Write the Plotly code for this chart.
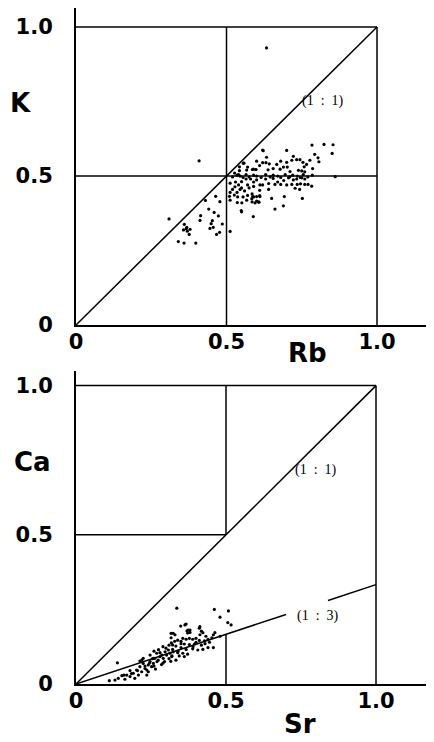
import plotly.graph_objects as go

# ---------------- data ----------------
tick_vals = [0, 0.5, 1.0]
tick_text = ["0", "0.5", "1.0"]

rb = [0.309, 0.36, 0.368, 0.357, 0.376, 0.34, 0.359, 0.398, 0.414, 0.412, 0.43, 0.441, 0.464, 0.478,
      0.459, 0.473, 0.453, 0.449, 0.486, 0.445, 0.477, 0.467, 0.409, 0.379, 0.37, 0.366, 0.456, 0.512,
      0.633,
      0.543, 0.556, 0.543, 0.567, 0.586, 0.597, 0.62, 0.62, 0.631, 0.633, 0.642, 0.622, 0.70, 0.784,
      0.824, 0.854, 0.851, 0.793, 0.804, 0.807, 0.777, 0.722, 0.717, 0.733, 0.744, 0.754, 0.766, 0.758,
      0.786, 0.667, 0.689, 0.702, 0.70, 0.558, 0.589, 0.598, 0.638, 0.678, 0.711, 0.739, 0.75, 0.76,
      0.861, 0.527, 0.54, 0.61, 0.655, 0.68, 0.57, 0.60,
      0.52, 0.535, 0.545, 0.555, 0.565, 0.575, 0.59, 0.60, 0.615, 0.63, 0.645, 0.655, 0.67, 0.68,
      0.695, 0.71, 0.72, 0.735, 0.745, 0.755, 0.77, 0.785,
      0.655, 0.706, 0.722, 0.733, 0.75, 0.76, 0.611, 0.62, 0.661, 0.68, 0.70, 0.717, 0.735, 0.746,
      0.76, 0.771, 0.783, 0.728, 0.743, 0.55, 0.57, 0.59, 0.60, 0.58, 0.565, 0.55, 0.575, 0.59, 0.61,
      0.585, 0.57, 0.59, 0.551, 0.585, 0.60, 0.65, 0.692, 0.752, 0.661, 0.689, 0.589, 0.55, 0.595,
      0.608, 0.587, 0.60, 0.61, 0.512, 0.528, 0.512, 0.512, 0.51, 0.526, 0.537, 0.536, 0.549, 0.567,
      0.611, 0.607, 0.584, 0.53, 0.54, 0.545, 0.56, 0.52, 0.535, 0.555, 0.63, 0.64, 0.67, 0.69, 0.64]
k = [0.356, 0.338, 0.328, 0.319, 0.304, 0.28, 0.275, 0.275, 0.367, 0.351, 0.418, 0.389, 0.432, 0.414,
     0.378, 0.366, 0.35, 0.34, 0.339, 0.324, 0.311, 0.304, 0.551, 0.321, 0.315, 0.323, 0.328, 0.314,
     0.93,
     0.531, 0.543, 0.518, 0.52, 0.522, 0.522, 0.587, 0.545, 0.545, 0.563, 0.541, 0.585, 0.586, 0.604,
     0.606, 0.605, 0.576, 0.573, 0.561, 0.548, 0.553, 0.566, 0.553, 0.555, 0.555, 0.546, 0.539, 0.531,
     0.525, 0.539, 0.53, 0.53, 0.546, 0.543, 0.523, 0.522, 0.521, 0.523, 0.515, 0.519, 0.517, 0.514,
     0.498, 0.51, 0.505, 0.535, 0.525, 0.55, 0.53, 0.55,
     0.497, 0.503, 0.5, 0.495, 0.505, 0.497, 0.503, 0.5, 0.495, 0.505, 0.497, 0.503, 0.5, 0.495,
     0.505, 0.497, 0.503, 0.5, 0.495, 0.505, 0.497, 0.503,
     0.492, 0.494, 0.487, 0.49, 0.494, 0.49, 0.47, 0.47, 0.472, 0.472, 0.47, 0.472, 0.472, 0.474,
     0.472, 0.472, 0.466, 0.459, 0.455, 0.481, 0.47, 0.48, 0.487, 0.49, 0.49, 0.46, 0.46, 0.465, 0.452,
     0.44, 0.435, 0.43, 0.41, 0.413, 0.416, 0.425, 0.431, 0.425, 0.389, 0.40, 0.364, 0.38, 0.41,
     0.412, 0.431, 0.431, 0.434, 0.476, 0.464, 0.445, 0.419, 0.432, 0.436, 0.43, 0.411, 0.384, 0.419,
     0.431, 0.413, 0.424, 0.48, 0.47, 0.455, 0.45, 0.455, 0.445, 0.43, 0.49, 0.475, 0.48, 0.485, 0.455]

sr = [0.138, 0.317, 0.317, 0.322, 0.111, 0.13, 0.141, 0.153, 0.163, 0.169, 0.18, 0.191, 0.196, 0.202,
      0.208, 0.213, 0.219, 0.224, 0.23, 0.236, 0.241, 0.247, 0.252, 0.258, 0.263, 0.269, 0.274, 0.28,
      0.286, 0.291, 0.297, 0.302, 0.308, 0.313, 0.319, 0.324, 0.247, 0.258, 0.241, 0.236, 0.219, 0.213,
      0.224,
      0.336, 0.461, 0.508, 0.48, 0.506, 0.517, 0.363, 0.349, 0.374, 0.38, 0.372, 0.324, 0.33, 0.411,
      0.418, 0.423, 0.413, 0.463, 0.458, 0.48, 0.453, 0.44, 0.433, 0.428, 0.411, 0.4, 0.389, 0.378,
      0.367, 0.356, 0.35, 0.339, 0.329, 0.318, 0.361, 0.378, 0.395, 0.418, 0.44, 0.458, 0.333, 0.35,
      0.367, 0.389, 0.406, 0.423, 0.322, 0.339, 0.356, 0.372, 0.32, 0.344, 0.361, 0.333, 0.316,
      0.367, 0.38, 0.37, 0.413, 0.29, 0.27, 0.26, 0.28, 0.30, 0.255, 0.265, 0.285, 0.31, 0.23, 0.205,
      0.185, 0.26, 0.275, 0.295, 0.245, 0.34, 0.35, 0.39, 0.40, 0.43, 0.445, 0.29, 0.31, 0.18, 0.16]
ca = [0.071, 0.17, 0.155, 0.131, 0.011, 0.013, 0.019, 0.028, 0.016, 0.03, 0.025, 0.036, 0.019, 0.047,
      0.03, 0.058, 0.041, 0.069, 0.052, 0.047, 0.064, 0.075, 0.058, 0.069, 0.086, 0.103, 0.08, 0.092,
      0.097, 0.086, 0.108, 0.097, 0.114, 0.103, 0.092, 0.108, 0.097, 0.086, 0.041, 0.03, 0.08, 0.077,
      0.086,
      0.254, 0.25, 0.245, 0.224, 0.206, 0.198, 0.198, 0.194, 0.181, 0.173, 0.171, 0.17, 0.165, 0.187,
      0.177, 0.172, 0.165, 0.172, 0.165, 0.16, 0.155, 0.15, 0.16, 0.145, 0.146, 0.153, 0.15, 0.153,
      0.15, 0.153, 0.143, 0.147, 0.143, 0.138, 0.134, 0.132, 0.134, 0.13, 0.122, 0.122, 0.127, 0.122,
      0.116, 0.118, 0.114, 0.116, 0.116, 0.105, 0.103, 0.1, 0.094, 0.094, 0.092, 0.08, 0.076,
      0.201, 0.181, 0.178, 0.192, 0.07, 0.075, 0.06, 0.105, 0.12, 0.085, 0.05, 0.065, 0.085, 0.06, 0.045,
      0.035, 0.11, 0.115, 0.075, 0.07, 0.11, 0.135, 0.125, 0.14, 0.135, 0.14, 0.125, 0.13, 0.045, 0.03]

ratio11_x = [0, 1.0]
ratio11_y = [0, 1.0]
ratio13_x = [0, 0.70, None, 0.84, 1.0]
ratio13_y = [0, 0.233, None, 0.28, 0.333]

top_grid_x = [0, 1.0, None, 0, 1.0, None, 0.5, 0.5, None, 1.0, 1.0]
top_grid_y = [1.0, 1.0, None, 0.5, 0.5, None, 0, 1.0, None, 0, 1.0]
bot_grid_x = [0, 1.0, None, 0, 0.5, None, 0.5, 0.5, None, 0.5, 0.5, None, 1.0, 1.0]
bot_grid_y = [1.0, 1.0, None, 0.5, 0.5, None, 0.5, 1.0, None, 0, 0.165, None, 0, 1.0]

# ---------------- figure ----------------
OFF = 8                      # page body margin in the browser
W, H = 434 - OFF, 742 - OFF  # figure size so it fits the window exactly


def px(xw):
    return (xw - OFF) / W


def py(yw):
    return 1 - (yw - OFF) / H


fig = go.Figure()

line_style = dict(color="black", width=1.5)
pt_style = dict(color="black", size=3.2)

fig.add_trace(go.Scatter(x=top_grid_x, y=top_grid_y, mode="lines", line=line_style, xaxis="x", yaxis="y", hoverinfo="skip"))
fig.add_trace(go.Scatter(x=ratio11_x, y=ratio11_y, mode="lines", line=line_style, xaxis="x", yaxis="y", hoverinfo="skip"))
fig.add_trace(go.Scatter(x=rb, y=k, mode="markers", marker=pt_style, xaxis="x", yaxis="y"))

fig.add_trace(go.Scatter(x=bot_grid_x, y=bot_grid_y, mode="lines", line=line_style, xaxis="x2", yaxis="y2", hoverinfo="skip"))
fig.add_trace(go.Scatter(x=ratio11_x, y=ratio11_y, mode="lines", line=line_style, xaxis="x2", yaxis="y2", hoverinfo="skip"))
fig.add_trace(go.Scatter(x=ratio13_x, y=ratio13_y, mode="lines", line=line_style, xaxis="x2", yaxis="y2", hoverinfo="skip", connectgaps=False))
fig.add_trace(go.Scatter(x=sr, y=ca, mode="markers", marker=pt_style, xaxis="x2", yaxis="y2"))

tickfont = dict(family="DejaVu Sans", size=21, color="black", weight="bold")
common_x = dict(showgrid=False, zeroline=False, showline=True, linecolor="black", linewidth=2,
                tickmode="array", tickvals=tick_vals, ticktext=tick_text, ticks="", tickfont=tickfont,
                automargin=False, ticklabelstandoff=-3, fixedrange=True)
common_y = dict(showgrid=False, zeroline=False, showline=True, linecolor="black", linewidth=2,
                tickmode="array", tickvals=tick_vals, ticktext=tick_text, ticks="", tickfont=tickfont,
                automargin=False, ticklabelstandoff=17, fixedrange=True)

fig.update_layout(
    width=W, height=H,
    margin=dict(l=0, r=0, t=0, b=0),
    paper_bgcolor="white", plot_bgcolor="white",
    showlegend=False,
    xaxis=dict(common_x, domain=[px(76), px(433)], range=[0, 1.186], anchor="y"),
    yaxis=dict(common_y, domain=[py(325), py(OFF)], range=[0, 1.064], anchor="x"),
    xaxis2=dict(common_x, domain=[px(76), px(433)], range=[0, 1.19], anchor="y2"),
    yaxis2=dict(common_y, domain=[py(684), py(371)], range=[0, 1.049], anchor="x2"),
)

title_font = dict(family="DejaVu Sans", size=26, color="black", weight="bold")
label_font = dict(family="Liberation Serif", size=14, color="black")
ctr = dict(xref="paper", yref="paper", showarrow=False, font=title_font, xanchor="center", yanchor="middle")
lbl = dict(xanchor="left", yanchor="middle", showarrow=False, font=label_font)
sp = "\u00a0\u00a0"
annots = [
    dict(ctr, text="K", x=px(20), y=py(103)),
    dict(ctr, text="Rb", x=px(307), y=py(353)),
    dict(ctr, text="Ca", x=px(32), y=py(462)),
    dict(ctr, text="Sr", x=px(300), y=py(724)),
    dict(lbl, text="(1" + sp + ":" + sp + "1)", x=0.745, y=0.752, xref="x", yref="y"),
    dict(lbl, text="(1" + sp + ":" + sp + "1)", x=0.724, y=0.717, xref="x2", yref="y2"),
    dict(lbl, text="(1" + sp + ":" + sp + "3)", x=0.73, y=0.228, xref="x2", yref="y2"),
]
fig.update_layout(annotations=annots)

fig.write_html("out.html")
